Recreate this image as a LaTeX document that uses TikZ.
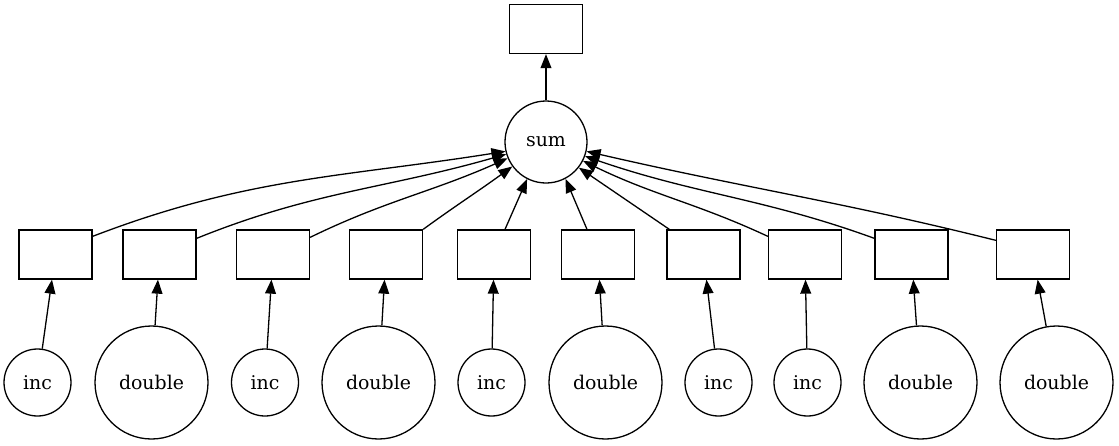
\documentclass[tikz,border=0pt]{standalone}
\usepackage{fontspec}
\setmainfont{DejaVu Serif}
\usetikzlibrary{arrows.meta,calc}
\begin{document}
\begin{tikzpicture}[x=0.5pt,y=0.5pt,
 every node/.style={font=\fontsize{9.45pt}{11pt}\selectfont},
 box/.style={draw,rectangle,minimum width=36.5pt,minimum height=24.5pt,inner sep=0pt,line width=0.65pt},
 nd/.style={draw,circle,inner sep=0pt,line width=0.65pt},
 smallc/.style={nd,minimum size=33.5pt},
 bigc/.style={nd,minimum size=56.5pt},
 sumc/.style={nd,minimum size=41pt},
 edge/.style={line width=0.65pt,-{Triangle[length=7pt,width=5.4pt]}}]
\useasboundingbox (0,0) rectangle (1119,-445);
% top
\node[box] (top) at (546,-29) {};
\node[sumc] (sum) at (546,-142) {sum};
% middle boxes
\node[box] (b1) at (55.5,-254.5) {};
\node[box] (b2) at (159.5,-254.5) {};
\node[box] (b3) at (273,-254.5) {};
\node[box] (b4) at (386,-254.5) {};
\node[box] (b5) at (494,-254.5) {};
\node[box] (b6) at (598,-254.5) {};
\node[box] (b7) at (703.5,-254.5) {};
\node[box] (b8) at (805,-254.5) {};
\node[box] (b9) at (911.5,-254.5) {};
\node[box] (b10) at (1033,-254.5) {};
% bottom circles
\node[smallc] (c1) at (37.5,-382.5) {inc};
\node[bigc] (c2) at (151.5,-382.5) {double};
\node[smallc] (c3) at (265,-382.5) {inc};
\node[bigc] (c4) at (378.5,-382.5) {double};
\node[smallc] (c5) at (491.5,-382.5) {inc};
\node[bigc] (c6) at (605.5,-382.5) {double};
\node[smallc] (c7) at (718.5,-382.5) {inc};
\node[smallc] (c8) at (807.5,-382.5) {inc};
\node[bigc] (c9) at (920.5,-382.5) {double};
\node[bigc] (c10) at (1056.5,-382.5) {double};
% edges
\draw[edge] (sum) -- (top);
\foreach \i in {1,...,10} {\draw[edge] (c\i) -- (b\i);}
\draw[edge] ($(b1.north east)+(0,-7)$) to[out=21,in=189] (sum.193);
\draw[edge] ($(b2.north east)+(0,-9)$) to[out=22,in=196] (sum.197);
\draw[edge] ($(b3.north east)+(0,-8)$) to[out=26,in=204] (sum.203);
\draw[edge] (b4.north east) to[out=36,in=216] (sum.216);
\draw[edge] ($(b5.north)+(11,0)$) -- (sum.243);
\draw[edge] ($(b6.north)+(-11,0)$) -- (sum.298);
\draw[edge] ($(b7.north west)+(3,0)$) -- (sum.322);
\draw[edge] ($(b8.north west)+(0,-7)$) to[out=155,in=334] (sum.333);
\draw[edge] ($(b9.north west)+(0,-9)$) to[out=160,in=341] (sum.340);
\draw[edge] ($(b10.north west)+(0,-11)$) to[out=166,in=347] (sum.347);
\end{tikzpicture}
\end{document}
